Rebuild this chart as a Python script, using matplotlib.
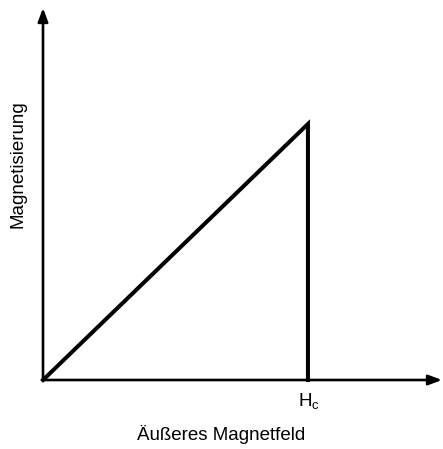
import matplotlib.pyplot as plt

plt.rcParams["font.family"] = ["Liberation Sans", "DejaVu Sans"]
plt.rcParams["mathtext.fontset"] = "custom"
plt.rcParams["mathtext.rm"] = "Liberation Sans"
plt.rcParams["mathtext.it"] = "Liberation Sans"

# magnetisation curve (arbitrary units): linear rise up to Hc, then drop to zero
field = [0.0, 1.0, 1.0]
magnetisation = [0.0, 1.0, 0.0]
hc = 1.0

x_label = "Äußeres Magnetfeld"
y_label = "Magnetisierung"
hc_label = r"H$_\mathrm{c}$"

fig = plt.figure(figsize=(4.43, 4.49), dpi=100)
ax = fig.add_axes([43 / 443, 69 / 449, 399 / 443, 372 / 449])
ax.set_xlim(0, 1.506)
ax.set_ylim(0, 1.453)
ax.axis("off")

ax.plot(field, magnetisation, color="black", lw=2.9, solid_joinstyle="miter",
        clip_on=False)

arrow = dict(arrowstyle="-|>,head_length=0.8,head_width=0.3", color="black",
             lw=1.9, shrinkA=0, shrinkB=0)
ax.annotate("", xy=(1.506, 0), xytext=(0, 0), arrowprops=arrow,
            annotation_clip=False)
ax.annotate("", xy=(0, 1.453), xytext=(0, 0), arrowprops=arrow,
            annotation_clip=False)

ax.annotate(hc_label, xy=(hc, 0), xytext=(1, -8), textcoords="offset points",
            ha="center", va="top", fontsize=13.5, annotation_clip=False)

fig.text(221 / 443, 1 - 434 / 449, x_label, ha="center", va="center", fontsize=13.5)
fig.text(18 / 443, 1 - 164 / 449, y_label, ha="center", va="center",
         rotation=90, fontsize=13.5)

fig.savefig("out.png", dpi=100)
